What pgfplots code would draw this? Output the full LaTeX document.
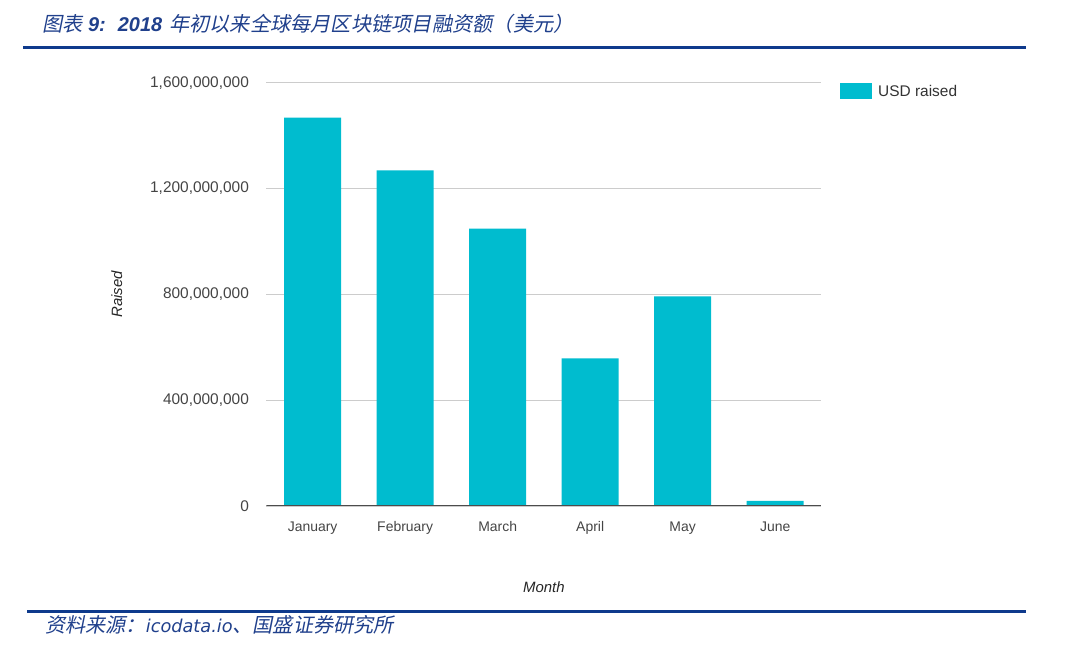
\documentclass[border=0pt]{standalone}
\usepackage{pgfplots}
\pgfplotsset{compat=1.18}
\usepackage{fontspec}
\setmainfont{Liberation Sans}
\newfontfamily\cjk[FakeSlant=0.2]{Noto Sans CJK SC}
\newfontfamily\dv{DejaVu Sans}
\definecolor{barc}{RGB}{0,188,207}
\definecolor{titleblue}{RGB}{32,64,140}
\definecolor{rulec}{RGB}{14,58,140}
\definecolor{tickc}{RGB}{68,68,68}
\begin{document}
\begin{tikzpicture}
\path[use as bounding box] (0bp,0bp) rectangle (1080bp,648bp);
% title and rules
\fill[rulec] (23bp,599.2bp) rectangle (1026bp,602.4bp);
\fill[rulec] (27bp,34.5bp) rectangle (1026bp,37.8bp);
\node[anchor=west,inner sep=0,text=titleblue] at (42.5bp,624.5bp)
 {\fontsize{20.3}{22}\selectfont\cjk 图表\hspace{5bp}{\rmfamily\bfseries\itshape\fontsize{20}{22}\selectfont 9:\hspace{12bp}2018}\hspace{7bp}年初以来全球每月区块链项目融资额（美元）};
\node[anchor=west,inner sep=0,text=titleblue] at (45bp,23bp)
 {\fontsize{20.2}{22}\selectfont\cjk 资料来源：{\dv\itshape\fontsize{17.8}{20}\selectfont icodata.io}、国盛证券研究所};
\begin{axis}[
  at={(266.4bp,142bp)}, anchor=south west,
  scale only axis, width=555bp, height=423.3bp,
  xmin=-0.5, xmax=5.5, ymin=0, ymax=1.6e9,
  axis line style={draw=none},
  xtick={0,1,2,3,4,5},
  xticklabels={January,February,March,April,May,June},
  ytick={0,4e8,8e8,1.2e9,1.6e9},
  yticklabels={0,{400,000,000},{800,000,000},{1,200,000,000},{1,600,000,000}},
  scaled y ticks=false,
  major tick length=0,
  ymajorgrids, grid style={draw=black!20, line width=0.9bp},
  x tick label style={font=\fontsize{14}{16}\selectfont, text=tickc, yshift=-12bp},
  y tick label style={font=\fontsize{15.5}{18}\selectfont, text=tickc, xshift=-14bp},
  ylabel={\itshape Raised}, xlabel={\itshape Month},
  label style={font=\fontsize{15}{18}\selectfont, text=black!85},
  ylabel style={yshift=21bp},
  xlabel style={yshift=-40bp},
  legend style={at={(1.0335,1.0)}, anchor=north west, draw=none, fill=none,
    inner sep=0pt, font=\fontsize{15.5}{18}\selectfont, text=black!80,
    legend cell align=left,
    nodes={inner xsep=6bp}},
  ybar, bar width=57bp,
]
\addplot[fill=barc, draw=none,
  legend image code/.code={\fill[barc] (0bp,-8bp) rectangle (32bp,8bp);}] coordinates {
 (0,1.468e9) (1,1.269e9) (2,1.048e9) (3,0.558e9) (4,0.792e9) (5,0.019e9)};
\addlegendentry{USD raised}
\draw[black!70, line width=1bp] (axis cs:-0.5,0) -- (axis cs:5.5,0);
\end{axis}
\end{tikzpicture}
\end{document}
